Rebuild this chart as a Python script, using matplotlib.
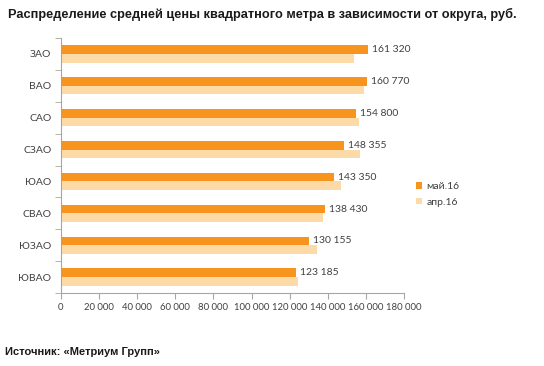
import matplotlib.pyplot as plt
import numpy as np

# data
districts = ["ЗАО", "ВАО", "САО", "СЗАО", "ЮАО", "СВАО", "ЮЗАО", "ЮВАО"]
may16 = [161320, 160770, 154800, 148355, 143350, 138430, 130155, 123185]
apr16 = [154000, 159100, 156600, 157000, 146800, 137700, 134600, 124200]
x_ticks = [0, 20000, 40000, 60000, 80000, 100000, 120000, 140000, 160000, 180000]

c_may = "#F7941D"
c_apr = "#FDDBA8"
grey = "#A6A6A6"
font = ["Lato", "DejaVu Sans"]

plt.rcParams['font.family'] = font

fig = plt.figure(figsize=(5.44, 3.66), dpi=100)
ax = fig.add_axes([61 / 544, 1 - 293 / 366, 343 / 544, 255 / 366])

n = len(districts)
y = np.arange(n)
h = 0.27
ax.barh(y - h / 2, may16, height=h, color=c_may, label="май.16")
ax.barh(y + h / 2, apr16, height=h, color=c_apr, label="апр.16")

def fmt(v):
    return f"{v:,}".replace(",", " ")

for yi, v in zip(y, may16):
    ax.text(v + 2000, yi - h / 2, fmt(v), va="center", ha="left",
            fontsize=7.5, color="#404040")

ax.set_xlim(0, 180000)
ax.set_ylim(n - 0.5, -0.5)
ax.set_xticks(x_ticks)
ax.set_xticklabels([fmt(t) for t in x_ticks], fontsize=6.8, color="#404040")
ax.set_yticks(y)
ax.set_yticklabels(districts, fontsize=7.5, color="#404040")
ax.set_yticks(np.arange(-0.5, n, 1), minor=True)
ax.tick_params(axis="y", which="major", length=0, pad=7)
ax.tick_params(axis="y", which="minor", length=4, color=grey)
ax.tick_params(axis="x", length=4, color=grey, pad=3)

for s in ["top", "right"]:
    ax.spines[s].set_visible(False)
ax.spines["left"].set_color(grey)
ax.spines["bottom"].set_color(grey)

ax.legend(loc="upper left", bbox_to_anchor=(404 / 544 + 0.005, 1 - 173 / 366),
          bbox_transform=fig.transFigure, frameon=False, fontsize=7.5,
          handlelength=0.6, handleheight=0.6, handletextpad=0.4,
          labelspacing=0.6, labelcolor="#404040")

fig.text(8 / 544, 1 - 14 / 366,
         "Распределение средней цены квадратного метра в зависимости от округа, руб.",
         fontsize=9.2, fontweight="bold", va="center", ha="left",
         family=["Liberation Sans", "DejaVu Sans"], color="#1a1a1a")
fig.text(5 / 544, 1 - 352 / 366, "Источник: «Метриум Групп»",
         fontsize=8, fontweight="bold", va="center", ha="left",
         family=["Liberation Sans", "DejaVu Sans"], color="#1a1a1a")

fig.savefig("out.png", dpi=100)
